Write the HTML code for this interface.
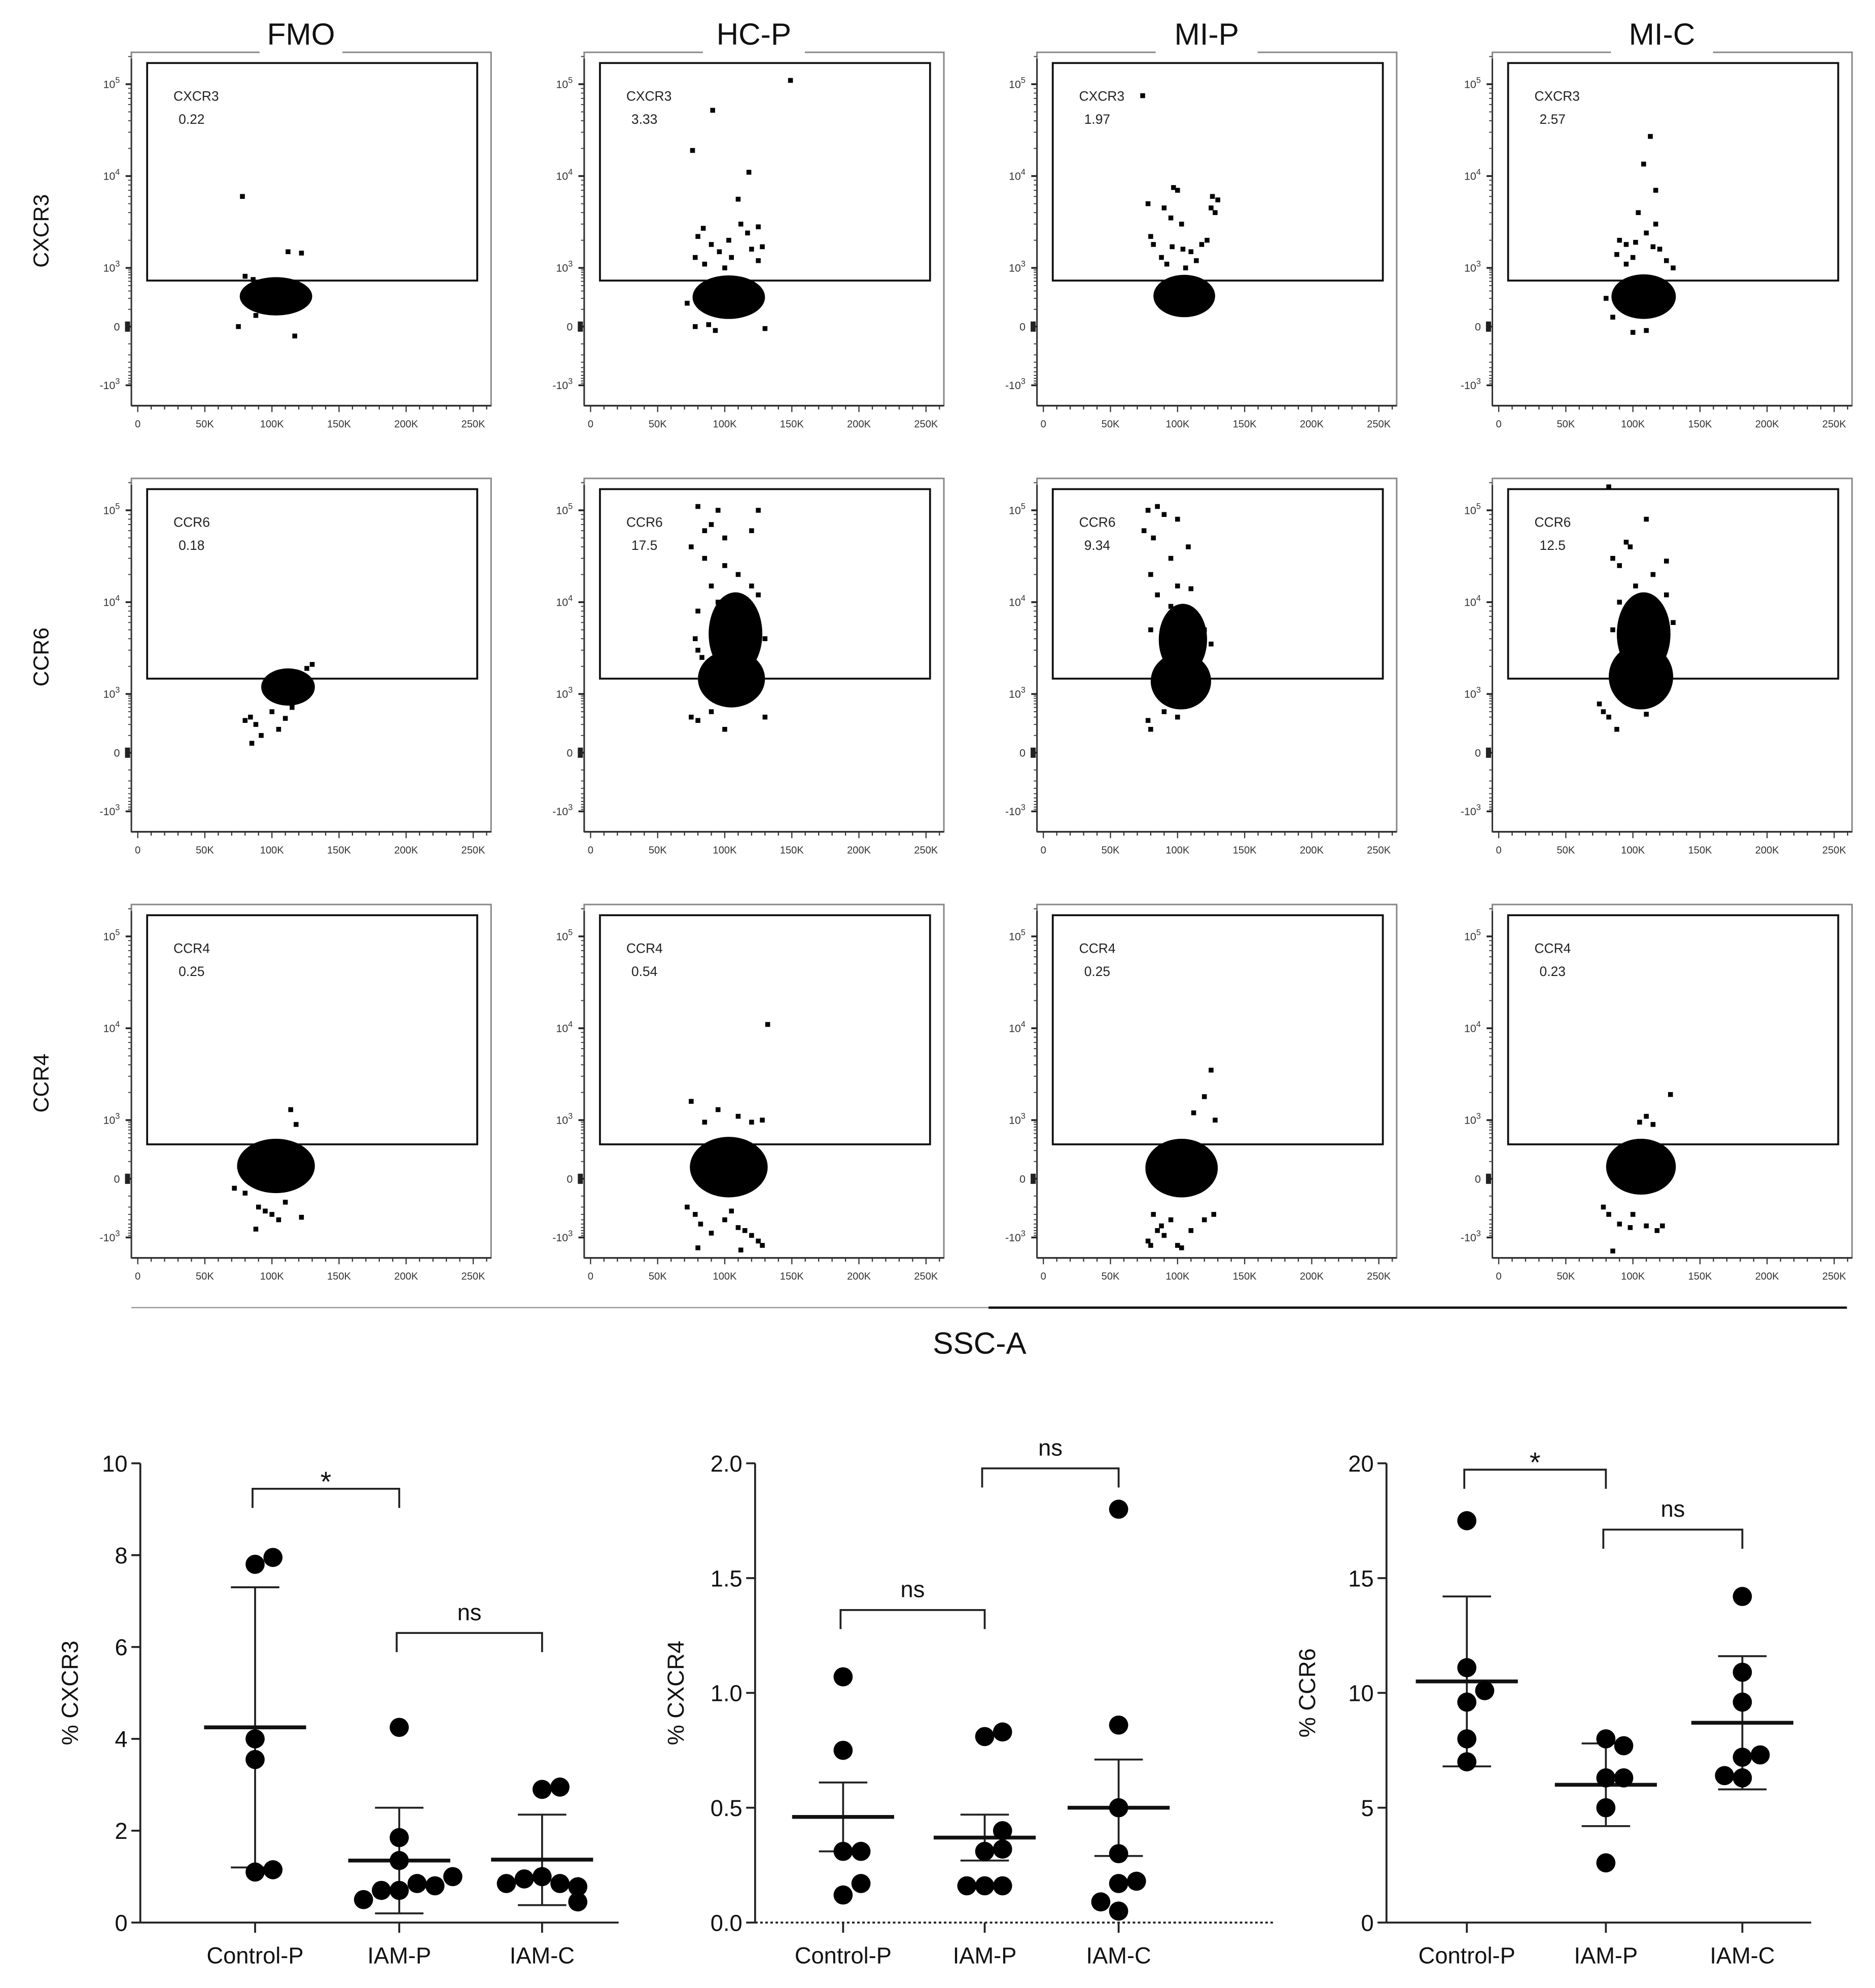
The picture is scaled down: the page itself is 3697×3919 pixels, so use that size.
<!DOCTYPE html>
<html><head><meta charset="utf-8"><style>
html,body{margin:0;padding:0;background:#fff;}
svg{display:block;font-family:"Liberation Sans",Arial,sans-serif;}
</style></head><body>
<svg id="fig" xmlns="http://www.w3.org/2000/svg" width="3697" height="3919" viewBox="0 0 1470 1558.3" preserveAspectRatio="none">
<rect x="0" y="0" width="1470" height="1558.3" fill="#fff"/>
<g id="flow"></g>
<g id="bars"></g>
</svg>
<script>
// ---------- Flow data ----------
const colTitles = ["FMO","HC-P","MI-P","MI-C"];
const rowMarkers = ["CXCR3","CCR6","CCR4"];
const gatePercents = [["0.22","3.33","1.97","2.57"],["0.18","17.5","9.34","12.5"],["0.25","0.54","0.25","0.23"]];
const gateLow = [520,1470,282];
const gateHigh = 170000;
const xTicksK = [0,50,100,150,200,250];
const xTickLabels = ["0","50K","100K","150K","200K","250K"];
// blobs: [xMinK,xMaxK,yMin,yMax]
const blobs = [
 [[76,130,60,620],[76,130,40,680],[82,128,50,700],[84,132,40,720]],
 [[92,132,550,1900],[80,130,500,3000],[80,125,450,2800],[82,130,450,3500]],
 [[74,132,-80,380],[74,132,-110,420],[76,130,-110,380],[80,132,-90,380]]
];
const columns = [
 [[0,0,0,0],[88,128,2500,12000],[86,122,2500,9000],[88,128,2500,12000]],
];
const outliers = [
 [
  [[78,6000],[112,1500],[122,1450],[80,650],[86,550],[75,0],[117,-50],[88,60]],
  [[149,110000],[91,52000],[76,19000],[118,11000],[110,5600],[112,3000],[84,2700],[80,2200],[103,2000],[117,2400],[125,2800],[90,1800],[96,1500],[105,1300],[120,1600],[78,1300],[85,1100],[100,1000],[125,1200],[128,1700],[72,150],[78,0],[93,-20],[130,-10],[88,10]],
  [[74,75000],[97,7500],[100,7000],[126,6000],[130,5500],[78,5000],[90,4500],[95,3500],[125,4500],[128,4000],[103,3000],[80,2200],[82,1800],[96,1700],[104,1600],[110,1500],[118,1800],[122,2000],[88,1300],[92,1100],[106,1000],[114,1200]],
  [[113,27000],[108,13500],[117,7000],[104,4000],[117,3000],[110,2400],[90,2000],[95,1800],[102,1900],[115,1700],[120,1600],[88,1400],[100,1300],[125,1200],[95,1100],[130,1000],[80,200],[85,50],[100,-30],[110,-20]]
 ],
 [
  [[84,300],[80,250],[88,200],[92,100],[85,50],[105,150],[110,280],[100,400],[115,500],[130,2100],[126,1900]],
  [[80,110000],[95,100000],[125,100000],[85,60000],[90,70000],[100,50000],[120,60000],[75,40000],[85,30000],[100,25000],[110,20000],[90,15000],[120,15000],[80,8000],[95,10000],[115,9000],[125,12000],[78,4000],[80,3000],[83,2500],[125,5000],[130,4000],[75,300],[80,250],[100,150],[90,400],[130,300]],
  [[78,100000],[85,110000],[90,90000],[100,80000],[75,60000],[82,50000],[108,40000],[95,30000],[80,20000],[100,15000],[110,14000],[85,12000],[95,9000],[105,8000],[115,7000],[80,5000],[90,5500],[120,5000],[125,3500],[78,250],[80,150],[90,400],[100,300]],
  [[82,180000],[110,80000],[95,45000],[98,40000],[85,30000],[90,25000],[125,28000],[115,20000],[102,15000],[125,12000],[90,10000],[110,9000],[118,7000],[85,5000],[130,6000],[75,600],[78,400],[82,300],[88,150],[110,350]]
 ],
 [
  [[114,1300],[72,-50],[80,-80],[88,-650],[100,-300],[105,-400],[95,-250],[110,-150],[122,-350],[90,-200],[118,800]],
  [[132,11000],[75,1600],[95,1300],[110,1100],[120,900],[128,1000],[85,900],[72,-200],[78,-300],[82,-500],[100,-400],[110,-600],[115,-700],[120,-900],[125,-1200],[128,-1500],[80,-1700],[112,-1900],[90,-800],[105,-250]],
  [[125,3500],[120,1800],[112,1200],[128,1000],[78,-1200],[80,-1500],[85,-700],[90,-900],[100,-1500],[103,-1700],[110,-700],[95,-400],[82,-300],[88,-550],[120,-400],[127,-300]],
  [[128,1900],[110,1100],[105,900],[115,800],[78,-200],[82,-300],[90,-500],[98,-600],[110,-550],[118,-700],[122,-550],[85,-2000],[100,-300]]
 ]
];

// ---------- Summary chart data ----------
const groups = ["Control-P","IAM-P","IAM-C"];
const cxcr3Points = [[7.8,7.95,4.0,3.55,1.1,1.15],[4.25,1.85,1.35,0.7,0.85,0.7,0.8,1.0,0.5],[2.9,2.95,1.0,0.85,0.95,0.78,0.85,0.45]];
const cxcr3Mean = [4.25,1.35,1.37];
const cxcr3Err = [[1.2,7.3],[0.2,2.5],[0.38,2.35]];
const cxcr4Points = [[1.07,0.75,0.31,0.31,0.12,0.17],[0.81,0.83,0.31,0.32,0.16,0.16,0.16,0.4],[1.8,0.86,0.5,0.3,0.17,0.18,0.05,0.09]];
const cxcr4Mean = [0.46,0.37,0.50];
const cxcr4Err = [[0.31,0.61],[0.27,0.47],[0.29,0.71]];
const ccr6Points = [[17.5,11.1,9.6,10.1,8.0,7.0],[8.0,7.7,6.3,6.3,5.0,2.6],[14.2,10.9,9.6,7.2,7.3,6.3,6.4]];
const ccr6Mean = [10.5,6.0,8.7];
const ccr6Err = [[6.8,14.2],[4.2,7.8],[5.8,11.6]];
const cxcr3Ticks = [0,2,4,6,8,10];
const cxcr4Ticks = [0,0.5,1.0,1.5,2.0];
const cxcr4TickLabels = ["0.0","0.5","1.0","1.5","2.0"];
const ccr6Ticks = [0,5,10,15,20];

const NS="http://www.w3.org/2000/svg";
function el(tag,attrs,parent,text){const e=document.createElementNS(NS,tag);for(const k in attrs)e.setAttribute(k,attrs[k]);if(text!==undefined)e.textContent=text;parent.appendChild(e);return e;}

const flow=document.getElementById('flow');
const colL=[103,458,813,1170], rowT=[41,375,709], FW=282, FH=277;
function yRel(v){
  if(v>=1000) return 169-72*Math.log10(v/1000);
  const a=Math.asinh(Math.abs(v)/100)/Math.asinh(10)*46;
  return v>=0?215-a:215+a;
}
function xPix(L,k){return L+5+k*1.052;}

for(let r=0;r<3;r++){
  for(let c=0;c<4;c++){
    const L=colL[c],T=rowT[r];
    const g=el('g',{},flow);
    
    
    const fr=el('rect',{x:L,y:T,width:FW,height:FH,fill:'none',stroke:'#888','stroke-width':1.2},g);
    
    
    const ya=el('line',{x1:L,y1:T+5,x2:L,y2:T+FH,stroke:'#333','stroke-width':1.2},g);
    
    
    const minors=[];
    for(let d=3;d<=5;d++)for(let m=1;m<=9;m++)minors.push(m*Math.pow(10,d-1)*10);
    minors.forEach(v=>{if(v>=1000&&v<=200000){const y=T+yRel(v);if(y>T+3)el('line',{x1:L-2.5,y1:y,x2:L,y2:y,stroke:'#444','stroke-width':0.8},g);}});
    [100,200,300,400,500,600,700,800,900].forEach(v=>{[v,-v].forEach(s=>{const y=T+yRel(s);el('line',{x1:L-2.5,y1:y,x2:L,y2:y,stroke:'#444','stroke-width':0.8},g);});});
    const yt=[[100000,'5'],[10000,'4'],[1000,'3'],[0,null],[-1000,'3']];
    yt.forEach(([v,e])=>{
      const y=T+yRel(v);
      el('line',{x1:L-4.5,y1:y,x2:L,y2:y,stroke:'#222','stroke-width':1.4},g);
      const t=el('text',{x:L-9,y:y+3,'font-size':8.5,'text-anchor':'end',fill:'#333'},g);
      
      
      if(e===null){t.textContent='0';}
      else{t.textContent=(v<0?'-10':'10');el('tspan',{dy:-4,'font-size':6.5},t,e);}
    });
    const xa=el('line',{x1:L,y1:T+FH,x2:L+FW,y2:T+FH,stroke:'#333','stroke-width':1.4},g);
    
    
    for(let k=0;k<=260;k+=10){const x=xPix(L,k);if(x<=L+FW)el('line',{x1:x,y1:T+FH,x2:x,y2:T+FH+(k%50===0?5:3),stroke:'#333','stroke-width':0.9},g);}
    xTicksK.forEach((k,i)=>{
      const t=el('text',{x:xPix(L,k),y:T+FH+17,'font-size':8,'text-anchor':'middle',fill:'#333'},g,xTickLabels[i]);
      
      
    });
    const gx1=xPix(L,7), gx2=xPix(L,253), gy1=T+yRel(gateHigh), gy2=T+yRel(gateLow[r]);
    const gate=el('rect',{x:gx1,y:gy1,width:gx2-gx1,height:gy2-gy1,fill:'none',stroke:'#111','stroke-width':1.5},g);
    
    
    const gl=el('text',{x:L+33,y:T+38,'font-size':10.5,fill:'#222'},g,rowMarkers[r]);
    
    
    const gp=el('text',{x:L+37,y:T+56,'font-size':10.5,fill:'#222'},g,gatePercents[r][c]);
    
    
    const b=blobs[r][c];
    const bx1=xPix(L,b[0]),bx2=xPix(L,b[1]),by1=T+yRel(b[3]),by2=T+yRel(b[2]);
    const blob=el('ellipse',{cx:(bx1+bx2)/2,cy:(by1+by2)/2,rx:(bx2-bx1)/2,ry:(by2-by1)/2,fill:'#000'},g);
    
    
    if(r===1&&c>0){
      const cb=columns[0][c];
      const cx1=xPix(L,cb[0]),cx2=xPix(L,cb[1]),cy1=T+yRel(cb[3]),cy2=T+yRel(cb[2]);
      const col=el('ellipse',{cx:(cx1+cx2)/2,cy:(cy1+cy2)/2+6,rx:(cx2-cx1)/2,ry:(cy2-cy1)/2+8,fill:'#000'},g);
      
      
    }
    outliers[r][c].forEach(([k,v])=>{
      const x=xPix(L,k),y=T+yRel(v);
      const p=el('rect',{x:x-1.9,y:y-1.9,width:3.8,height:3.8,fill:'#000'},g);
      
      
    });
    el('rect',{x:L-5,y:T+yRel(0)-4,width:4,height:8,fill:'#222'},g);
    if(r===0){
      const tw=colTitles[c].length*15+20, cx=L+FW/2-8;
      el('rect',{x:cx-tw/2,y:T-4,width:tw,height:8,fill:'#fff'},g);
      const tt=el('text',{x:cx,y:T-6,'font-size':24,'text-anchor':'middle',fill:'#111'},g,colTitles[c]);
      
      
    }
  }
  const rl=el('text',{x:0,y:0,'font-size':17,'text-anchor':'middle',fill:'#111',transform:`translate(38,${rowT[r]+140}) rotate(-90)`},flow,rowMarkers[r]);
  
  
}
const sl1=el('line',{x1:103,y1:1025,x2:775,y2:1025,stroke:'#999','stroke-width':1},flow);


const sl2=el('line',{x1:775,y1:1025,x2:1448,y2:1025,stroke:'#111','stroke-width':1.8},flow);


const ssc=el('text',{x:768,y:1061,'font-size':24,'text-anchor':'middle',fill:'#111'},flow,'SSC-A');



// ---------- Summary charts ----------
const bars=document.getElementById('bars');
function chart(opt){
  const g=el('g',{},bars);
  
  
  const y0=1507,y1=1147;
  const ys=v=>y0-(v-opt.min)/(opt.max-opt.min)*(y0-y1);
  const ax=el('line',{x1:opt.ax,y1:y1,x2:opt.ax,y2:y0,stroke:'#222','stroke-width':1.5},g);
  
  
  const xl=el('line',{x1:opt.ax,y1:y0,x2:opt.axEnd,y2:y0,stroke:'#222','stroke-width':1.5,'stroke-dasharray':opt.dashed?'2,2':'none'},g);
  
  
  opt.ticks.forEach((v,i)=>{
    el('line',{x1:opt.ax-7,y1:ys(v),x2:opt.ax,y2:ys(v),stroke:'#222','stroke-width':1.5},g);
    const t=el('text',{x:opt.ax-10,y:ys(v)+6.5,'font-size':18,'text-anchor':'end',fill:'#111'},g,opt.tickLabels?opt.tickLabels[i]:String(v));
    
    
  });
  const yl=el('text',{x:0,y:0,'font-size':18,'text-anchor':'middle',fill:'#111',transform:`translate(${opt.ylx},1327) rotate(-90)`},g,opt.ylabel);
  
  
  groups.forEach((name,i)=>{
    const cx=opt.cx[i];
    el('line',{x1:cx,y1:y0,x2:cx,y2:y0+8,stroke:'#222','stroke-width':1.5},g);
    const t=el('text',{x:cx,y:y0+32,'font-size':18,'text-anchor':'middle',fill:'#111'},g,name);
    
    
    const e=opt.err[i];
    const eb=el('path',{d:`M${cx},${ys(e[0])}V${ys(e[1])}M${cx-19},${ys(e[1])}H${cx+19}M${cx-19},${ys(e[0])}H${cx+19}`,stroke:'#222','stroke-width':1.5,fill:'none'},g);
    
    
    const ml=el('line',{x1:cx-40,y1:ys(opt.mean[i]),x2:cx+40,y2:ys(opt.mean[i]),stroke:'#111','stroke-width':3},g);
    
    
    const pts=opt.points[i];
    const used=[];
    pts.forEach(v=>{
      const y=ys(v);
      let off=0;const near=used.filter(u=>Math.abs(u.y-y)<15);
      if(near.length){const n=near.length;off=(n%2?1:-1)*Math.ceil(n/2)*14;}
      used.push({y:y});
      const p=el('circle',{cx:cx+off,cy:y,r:7.5,fill:'#000'},g);
      
      
    });
  });
  opt.sig.forEach(s=>{
    const a=opt.cx[s[0]]-2,b=opt.cx[s[1]];
    const br=el('path',{d:`M${a},${s[2]+15}V${s[2]}H${b}V${s[2]+15}`,stroke:'#222','stroke-width':1.5,fill:'none'},g);
    
    
    const t=el('text',{x:(a+b)/2,y:s[2]-(s[3]==='*'?-2:10),'font-size':s[3]==='*'?22:18,'text-anchor':'middle',fill:'#111'},g,s[3]);
    
    
  });
}
chart({name:'cxcr3-chart',ax:110,axEnd:485,min:0,max:10,ticks:cxcr3Ticks,ylabel:'% CXCR3',ylx:61,cx:[200,313,425],points:cxcr3Points,mean:cxcr3Mean,err:cxcr3Err,sig:[[0,1,1167,'*'],[1,2,1280,'ns']]});
chart({name:'cxcr4-chart',ax:592,axEnd:1000,min:0,max:2,ticks:cxcr4Ticks,tickLabels:cxcr4TickLabels,ylabel:'% CXCR4',ylx:536,cx:[661,772,877],points:cxcr4Points,mean:cxcr4Mean,err:cxcr4Err,dashed:true,sig:[[0,1,1262,'ns'],[1,2,1151,'ns']]});
chart({name:'ccr6-chart',ax:1087,axEnd:1420,min:0,max:20,ticks:ccr6Ticks,ylabel:'% CCR6',ylx:1031,cx:[1150,1259,1366],points:ccr6Points,mean:ccr6Mean,err:ccr6Err,sig:[[0,1,1152,'*'],[1,2,1199,'ns']]});
</script>
</body></html>
